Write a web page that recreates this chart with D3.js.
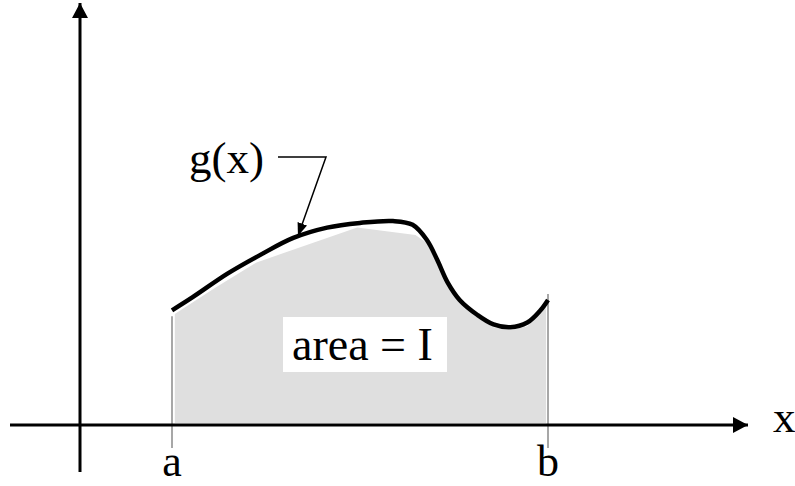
<!DOCTYPE html>
<html>
<head>
<meta charset="utf-8">
<script src="https://cdn.jsdelivr.net/npm/d3@7"></script>
<style>
  body { margin: 0; background: #fff; }
  text { font-family: "Liberation Serif", "Times New Roman", serif; fill: #000; }
</style>
</head>
<body>
<div id="plot"></div>
<script>
// curve g(x) sampled between a and b
var curveX = [1.0, 1.22, 1.59, 1.94, 2.29, 2.65, 3.0, 3.35, 3.56, 3.71, 3.82, 3.93, 4.06, 4.25, 4.42, 4.6, 4.78, 4.92, 5.0];
var curveY = [1.22, 1.36, 1.61, 1.81, 1.99, 2.1, 2.15, 2.17, 2.13, 1.97, 1.76, 1.52, 1.33, 1.17, 1.07, 1.04, 1.09, 1.22, 1.33];

// shaded region outline (drawn as straight segments, sits just under the curve)
var fillX = [1.03, 1.46, 1.9, 2.97, 3.59, 3.71, 3.82, 3.93, 4.06, 4.25, 4.42, 4.6, 4.78, 4.92, 4.98];
var fillY = [1.18, 1.46, 1.73, 2.1, 2.02, 1.94, 1.72, 1.49, 1.3, 1.14, 1.04, 1.01, 1.05, 1.19, 1.29];

// limits of integration
var tickValues = [1, 5];
var tickLabels = ["a", "b"];

var width = 795, height = 486;

var svg = d3.select("#plot")
  .append("svg")
    .attr("width", width)
    .attr("height", height);

var x = d3.scaleLinear().domain([1, 5]).range([172, 548]);
var y = d3.scaleLinear().domain([0, 4.5]).range([425, 2]);

var defs = svg.append("defs");
defs.append("marker")
    .attr("id", "axisHead")
    .attr("viewBox", "0 0 15 16")
    .attr("refX", 15).attr("refY", 8)
    .attr("markerUnits", "userSpaceOnUse")
    .attr("markerWidth", 15).attr("markerHeight", 16)
    .attr("orient", "auto")
  .append("path")
    .attr("d", "M0,0L15,8L0,16Z")
    .attr("fill", "#000");
defs.append("marker")
    .attr("id", "leaderHead")
    .attr("viewBox", "0 0 13 10")
    .attr("refX", 13).attr("refY", 5)
    .attr("markerUnits", "userSpaceOnUse")
    .attr("markerWidth", 13).attr("markerHeight", 10)
    .attr("orient", "auto")
  .append("path")
    .attr("d", "M0,0L13,5L0,10Z")
    .attr("fill", "#000");

// shaded area
var fillPts = fillX.map(function (d, i) { return [d, fillY[i]]; });
var areaGen = d3.area()
    .x(function (d) { return x(d[0]); })
    .y0(y(0.02))
    .y1(function (d) { return y(d[1]); })
    .curve(d3.curveLinear);
svg.append("path")
    .datum(fillPts)
    .attr("d", areaGen)
    .attr("fill", "#dfdfdf");

// vertical marks at a and b
svg.selectAll(".limit")
  .data(tickValues)
  .enter()
  .append("line")
    .attr("class", "limit")
    .attr("x1", function (d) { return x(d); })
    .attr("x2", function (d) { return x(d); })
    .attr("y1", function (d, i) { return y(curveY[i === 0 ? 0 : curveY.length - 1]) + 6 * (i === 0 ? 1 : -1); })
    .attr("y2", 448)
    .attr("stroke", "#8a8a8a")
    .attr("stroke-width", 1.5);

// axes
svg.append("line")
    .attr("x1", 10).attr("x2", 748)
    .attr("y1", y(0)).attr("y2", y(0))
    .attr("stroke", "#000")
    .attr("stroke-width", 3)
    .attr("marker-end", "url(#axisHead)");
svg.append("line")
    .attr("x1", x(0) + 2).attr("x2", x(0) + 2)
    .attr("y1", 472).attr("y2", 3)
    .attr("stroke", "#000")
    .attr("stroke-width", 3)
    .attr("marker-end", "url(#axisHead)");

// the curve
var curvePts = curveX.map(function (d, i) { return [d, curveY[i]]; });
var lineGen = d3.line()
    .x(function (d) { return x(d[0]); })
    .y(function (d) { return y(d[1]); })
    .curve(d3.curveCatmullRom);
svg.append("path")
    .datum(curvePts)
    .attr("d", lineGen)
    .attr("fill", "none")
    .attr("stroke", "#000")
    .attr("stroke-width", 4.5);

// labels a, b and x
svg.selectAll(".tick-label")
  .data(tickValues)
  .enter()
  .append("text")
    .attr("class", "tick-label")
    .attr("x", function (d) { return x(d); })
    .attr("y", 476)
    .attr("text-anchor", "middle")
    .style("font-size", "44px")
    .text(function (d, i) { return tickLabels[i]; });

svg.append("text")
    .attr("x", 773)
    .attr("y", 432)
    .style("font-size", "45px")
    .text("x");

// area label box
svg.append("rect")
    .attr("x", 283).attr("y", 317)
    .attr("width", 164).attr("height", 55)
    .attr("fill", "#fff");
svg.append("text")
    .attr("x", 292)
    .attr("y", 360)
    .style("font-size", "46px")
    .text("area = I");

// g(x) label with leader arrow
svg.append("text")
    .attr("x", 189)
    .attr("y", 173)
    .style("font-size", "45px")
    .text("g(x)");
svg.append("polyline")
    .attr("points", "278,157 326,157 " + x(2.34) + "," + (y(2.0) - 1))
    .attr("fill", "none")
    .attr("stroke", "#000")
    .attr("stroke-width", 1.5)
    .attr("marker-end", "url(#leaderHead)");
</script>
</body>
</html>
